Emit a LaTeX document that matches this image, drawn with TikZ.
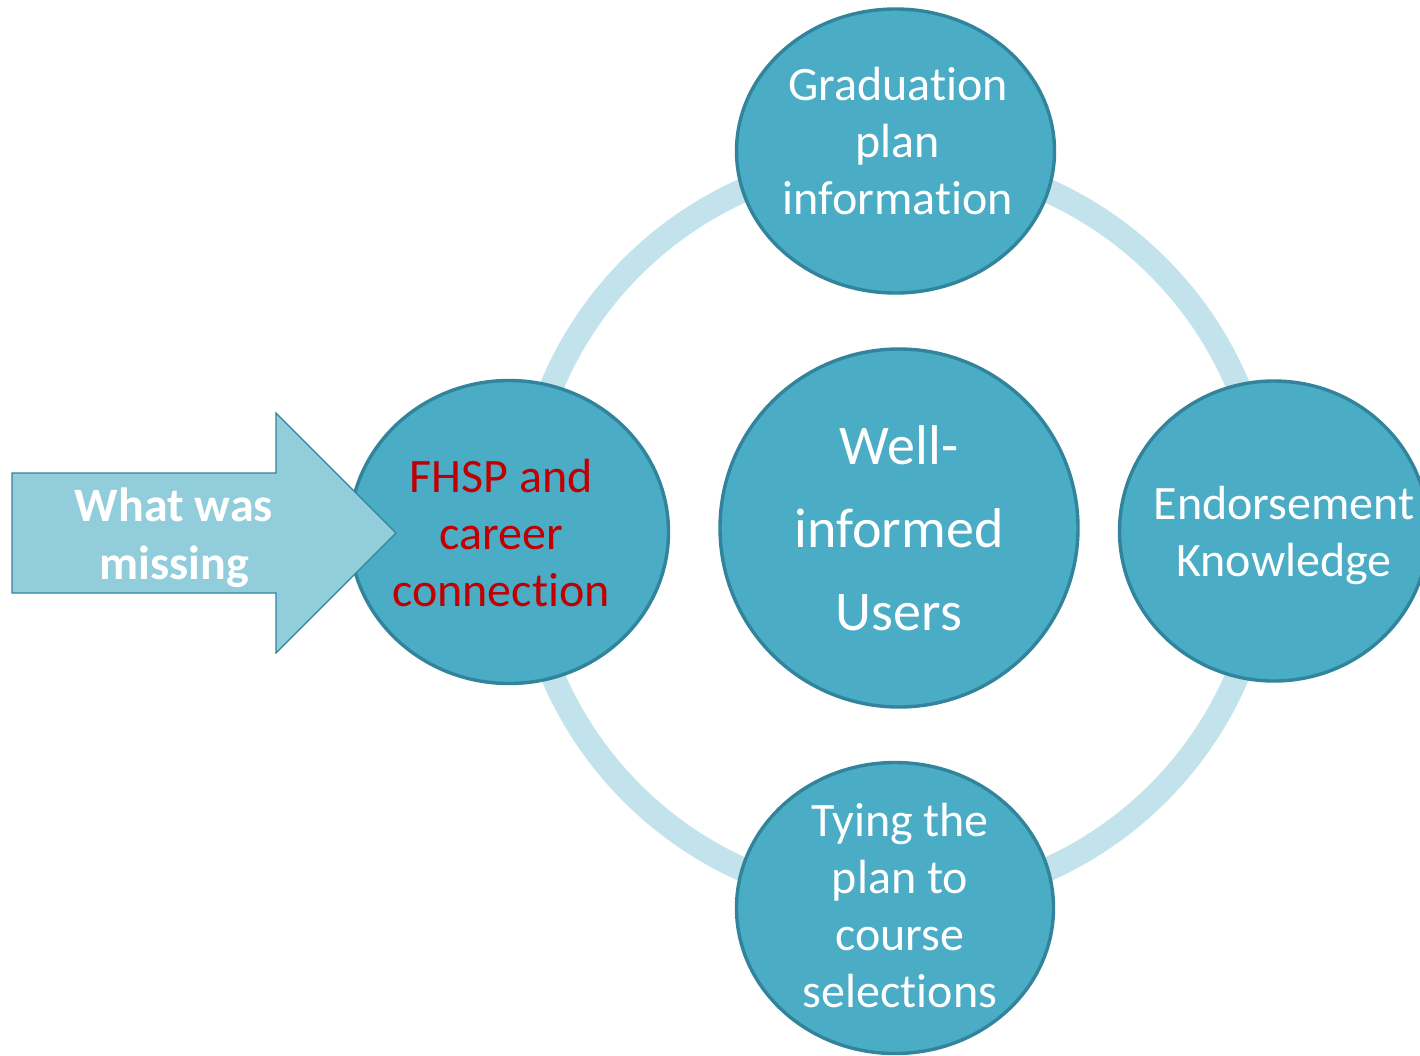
\documentclass[tikz,border=0pt]{standalone}
\usepackage{fontspec}
\setmainfont{Carlito}[RawFeature={-liga;-clig;-calt;-dlig}]
\usetikzlibrary{shapes.geometric}
\definecolor{cfill}{HTML}{4BACC6}
\definecolor{cline}{HTML}{31849B}
\definecolor{cring}{HTML}{C2E3EB}
\definecolor{carrow}{HTML}{92CDDC}
\definecolor{cred}{HTML}{C00000}
\newcommand{\nolig}{\kern0pt }
\begin{document}
\begin{tikzpicture}[x=1pt,y=-1pt,
  bubble/.style={ellipse, fill=cfill, draw=cline, line width=3.4pt, inner sep=0pt},
  txt/.style={text=white, align=center, inner sep=0pt, font=\fontsize{48}{57}\selectfont},
  bigtxt/.style={text=white, align=center, inner sep=0pt, font=\fontsize{56}{83}\selectfont},
]
\clip (0,0) rectangle (1420,1055);
\fill[white] (0,0) rectangle (1420,1055);
% ring
\node[circle, draw=cring, line width=24pt, minimum size=744pt, inner sep=0pt] (ring) at (895,530) {};
% bubbles
\node[bubble, minimum width=318pt, minimum height=284pt] (grad) at (895.5,151) {};
\node[bubble, minimum width=319pt, minimum height=303pt] (fhsp) at (509,532) {};
\node[bubble, minimum width=309pt, minimum height=300pt] (endo) at (1274,531) {};
\node[bubble, minimum width=317pt, minimum height=291pt] (tying) at (895,908) {};
\node[bubble, circle, minimum size=358pt] (users) at (899,528) {};
% arrow
\coordinate (a1) at (12,473);
\coordinate (a2) at (276,473);
\coordinate (a3) at (276,413);
\coordinate (a4) at (396,533);
\coordinate (a5) at (276,653);
\coordinate (a6) at (276,593);
\coordinate (a7) at (12,593);
\draw[fill=carrow, draw=cline, line width=1.2pt, line join=miter]
  (a1) -- (a2) -- (a3) -- (a4) -- (a5) -- (a6) -- (a7) -- cycle;
% texts
\node[txt] (gradT) at (898,146) {\strut Graduat\nolig ion\\\strut plan\\\strut informat\nolig ion};
\node[txt, text=cred] (fhspT) at (501,538.5) {\strut FHSP and\\\strut career\\\strut connect\nolig ion};
\node[txt] (endoT) at (1284,537) {\strut Endorsement\\\strut Knowledge};
\node[txt] (tyingT) at (900,911) {\strut Tying the\\\strut plan to\\\strut course\\\strut select\nolig ions};
\node[bigtxt] (usersT) at (899,530.5) {\strut Well-\\\strut informed\\\strut Users};
\node[txt, font=\fontsize{48}{58}\selectfont\bfseries] (missT) at (174,538.5) {\strut What was\\\strut missing};
\end{tikzpicture}
\end{document}
